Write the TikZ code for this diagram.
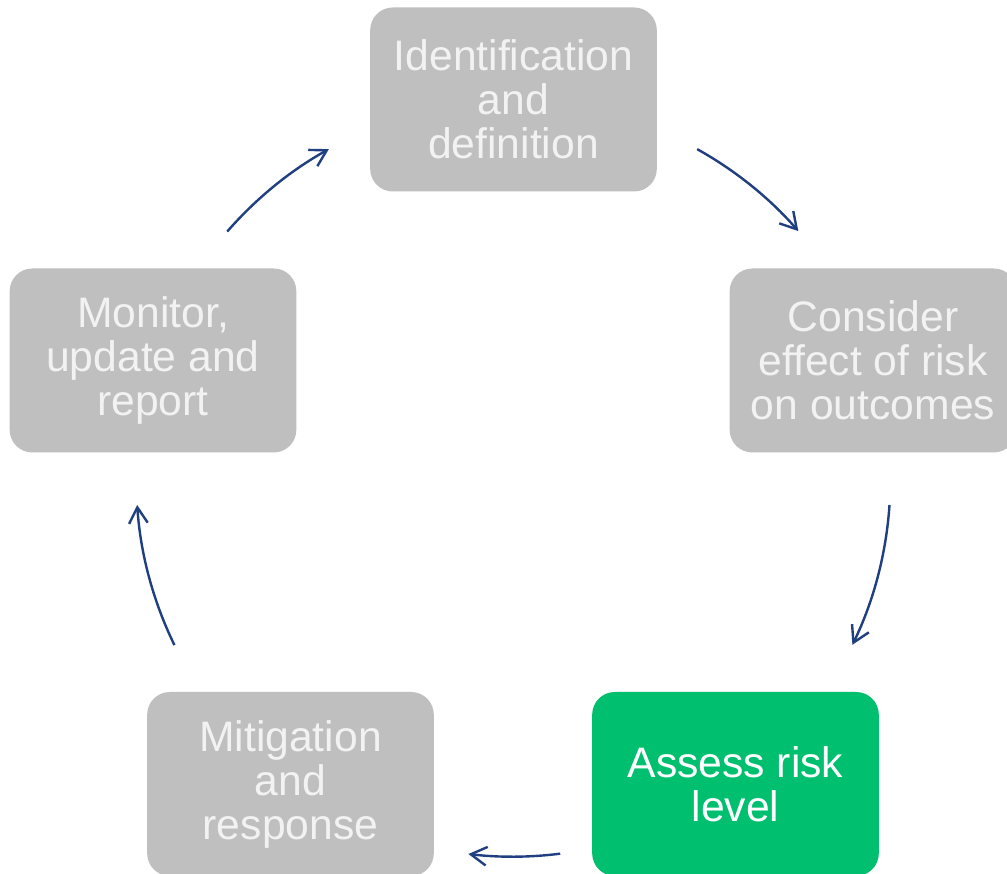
\documentclass[tikz,border=0pt]{standalone}
\usepackage{fontspec}
\setmainfont{Liberation Sans}
\usetikzlibrary{arrows.meta}
\definecolor{boxgrey}{HTML}{BFBFBF}
\definecolor{boxgreen}{HTML}{00BF6F}
\definecolor{navyline}{HTML}{1F3F80}
\definecolor{lighttext}{HTML}{F2F2F2}
\begin{document}
\begin{tikzpicture}[x=0.75pt,y=0.75pt,
  stagebox/.style={rounded corners=17pt, minimum width=215pt, minimum height=138pt,
    inner sep=0pt, align=center, font=\fontsize{32}{33}\selectfont,
    text=lighttext, fill=boxgrey},
  activebox/.style={stagebox, fill=boxgreen, text=white},
  cyc/.style={draw=navyline, line width=1.8pt,
    -{Straight Barb[length=12pt,width=14pt]}}]
\clip (0,0) rectangle (1007,874);
\fill[white] (0,0) rectangle (1007,874);

\node[stagebox] (ident) at (513.5,774.5) {Identification\\and\\definition};
\node[stagebox] (consider) at (873,513.5) {Consider\\effect of risk\\on outcomes};
\node[activebox] (assess) at (735.5,90) {Assess risk\\level};
\node[stagebox] (mitig) at (290.5,90) {Mitigation\\and\\response};
\node[stagebox] (monitor) at (153,513.5) {Monitor,\\update and\\report};

\coordinate (c) at (513,394);
\coordinate (a1) at ([shift={(60.9:284pt)}]c);
\coordinate (a2) at ([shift={(-3.8:283pt)}]c);
\coordinate (a3) at ([shift={(-82.8:282.5pt)}]c);
\coordinate (a4) at ([shift={(206:282.5pt)}]c);
\coordinate (a5) at ([shift={(139:284pt)}]c);

\draw[cyc] (a1) arc[start angle=60.9, end angle=41.1, radius=284pt];
\draw[cyc] (a2) arc[start angle=-3.8, end angle=-25.9, radius=283pt];
\draw[cyc] (a3) arc[start angle=-82.8, end angle=-96.8, radius=282.5pt];
\draw[cyc] (a4) arc[start angle=206, end angle=183.8, radius=282.5pt];
\draw[cyc] (a5) arc[start angle=139, end angle=119.1, radius=284pt];
\end{tikzpicture}
\end{document}
